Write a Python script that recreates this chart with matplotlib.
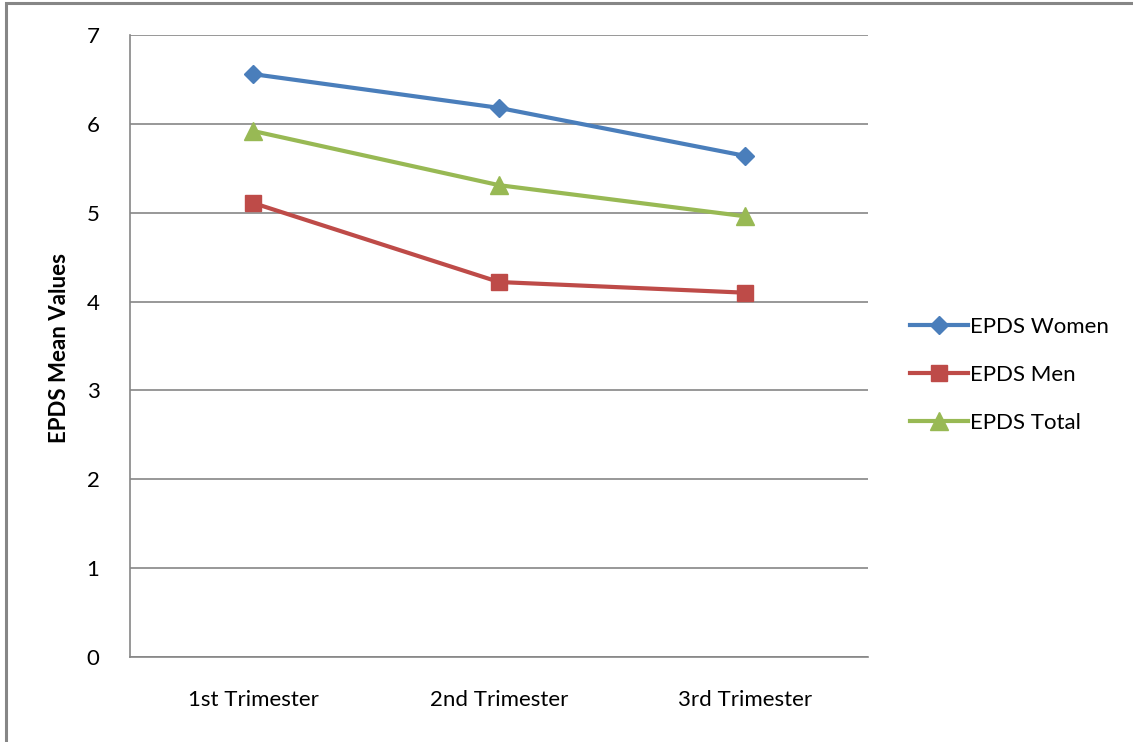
import matplotlib.pyplot as plt
from matplotlib.patches import Rectangle

categories = ['1st Trimester', '2nd Trimester', '3rd Trimester']
women = [6.56, 6.18, 5.64]
men = [5.11, 4.22, 4.10]
total = [5.92, 5.31, 4.96]

plt.rcParams['font.family'] = ['Lato', 'DejaVu Sans']

fig = plt.figure(figsize=(11.33, 7.42), dpi=100)
ax = fig.add_axes([130 / 1133, 1 - 657 / 742, 738 / 1133, 622 / 742])

x = range(len(categories))
ax.plot(x, women, color='#4A7EBB', lw=3.0, marker='D', ms=9, label='EPDS Women')
ax.plot(x, men, color='#BE4B48', lw=3.0, marker='s', ms=12, label='EPDS Men')
ax.plot(x, total, color='#98B954', lw=3.0, marker='^', ms=13, label='EPDS Total')

ax.set_xlim(-0.5, 2.5)
ax.set_ylim(0, 7)
ax.set_yticks(range(8))
ax.set_xticks(list(x))
ax.set_xticklabels(categories)
ax.tick_params(length=0, labelsize=16, colors='black')
ax.tick_params(axis='y', pad=22)
ax.tick_params(axis='x', pad=24)
ax.grid(axis='y', color='#868686', lw=1.2)
ax.set_axisbelow(True)
for s in ['top', 'right']:
    ax.spines[s].set_visible(False)
for s in ['left', 'bottom']:
    ax.spines[s].set_color('#868686')
    ax.spines[s].set_linewidth(1.2)

fig.text(60 / 1133, 1 - 348 / 742, 'EPDS Mean Values', rotation=90, fontsize=16,
         fontweight='bold', ha='center', va='center')

leg = ax.legend(loc='center left', bbox_to_anchor=(899 / 1133, 1 - 375 / 742),
                bbox_transform=fig.transFigure, frameon=False, fontsize=16,
                handlelength=2.6, handletextpad=0.1, labelspacing=1.25, borderpad=0)

# outer chart frame
fig.patches.append(Rectangle((6 / 1133, -0.1), 1.2, 1 - 3 / 742 + 0.1, transform=fig.transFigure,
                             fill=False, edgecolor='#868686', lw=2.2))

plt.savefig('out.png', dpi=100)
